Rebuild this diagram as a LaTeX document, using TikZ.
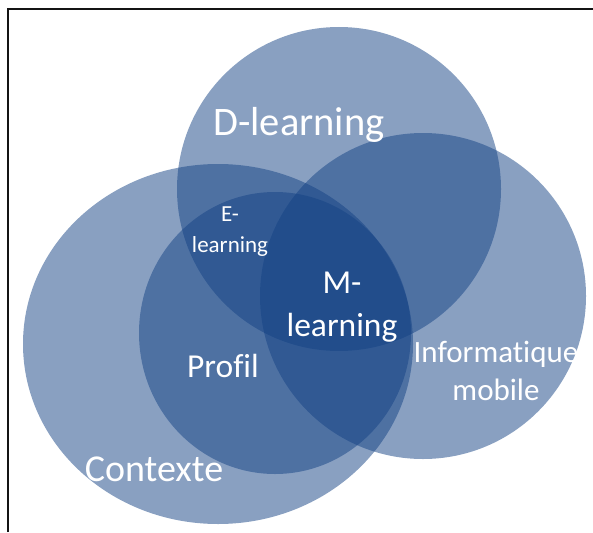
\documentclass[tikz,border=0pt]{standalone}
\usepackage{fontspec}
\setmainfont{Carlito}[Ligatures={NoCommon,NoRare,NoContextual}]
\usetikzlibrary{shapes.geometric}
\definecolor{vennblue}{RGB}{20,66,132}
\definecolor{framegray}{RGB}{20,20,20}
\tikzset{
  venn/.style={fill=vennblue, fill opacity=0.5, draw=none, inner sep=0pt, outer sep=0pt},
  vcircle/.style={venn, circle},
  vellipse/.style={venn, ellipse},
  lbl/.style={text=white, inner sep=0pt, anchor=base},
}
\newcommand{\fs}[1]{\fontsize{#1}{#1}\selectfont}
\begin{document}
\begin{tikzpicture}[x=1pt,y=-1pt]
\useasboundingbox (0,0) rectangle (593,532);
% partial frame
\draw[framegray, line width=1.3pt] (8,532) -- (8,9) -- (593,9);
% circles
\node[vcircle, minimum size=324pt] (dl) at (339,189) {};
\node[vcircle, minimum size=326pt] (im) at (423,296) {};
\node[vellipse, minimum width=390pt, minimum height=360pt] (ctx) at (218,344) {};
\node[vellipse, minimum width=272pt, minimum height=282pt] (prof) at (275,333) {};
% labels
\node[lbl, font=\fs{40.5}] (tdl) at (299,135) {D-learning};
\node[lbl, font=\fs{23}] (tel1) at (230,221) {E-};
\node[lbl, font=\fs{23}] (tel2) at (230,252) {learning};
\node[lbl, font=\fs{33.5}] (tml1) at (342,293) {M-};
\node[lbl, font=\fs{33.5}] (tml2) at (342,336) {learning};
\node[lbl, font=\fs{33.5}] (tprof) at (223,377) {Profil};
\node[lbl, font=\fs{38}] (tctx) at (154,481) {Contexte};
\node[lbl, font=\fs{31}] (tim1) at (496,362) {Informatique};
\node[lbl, font=\fs{31}] (tim2) at (496,400) {mobile};
\end{tikzpicture}
\end{document}
